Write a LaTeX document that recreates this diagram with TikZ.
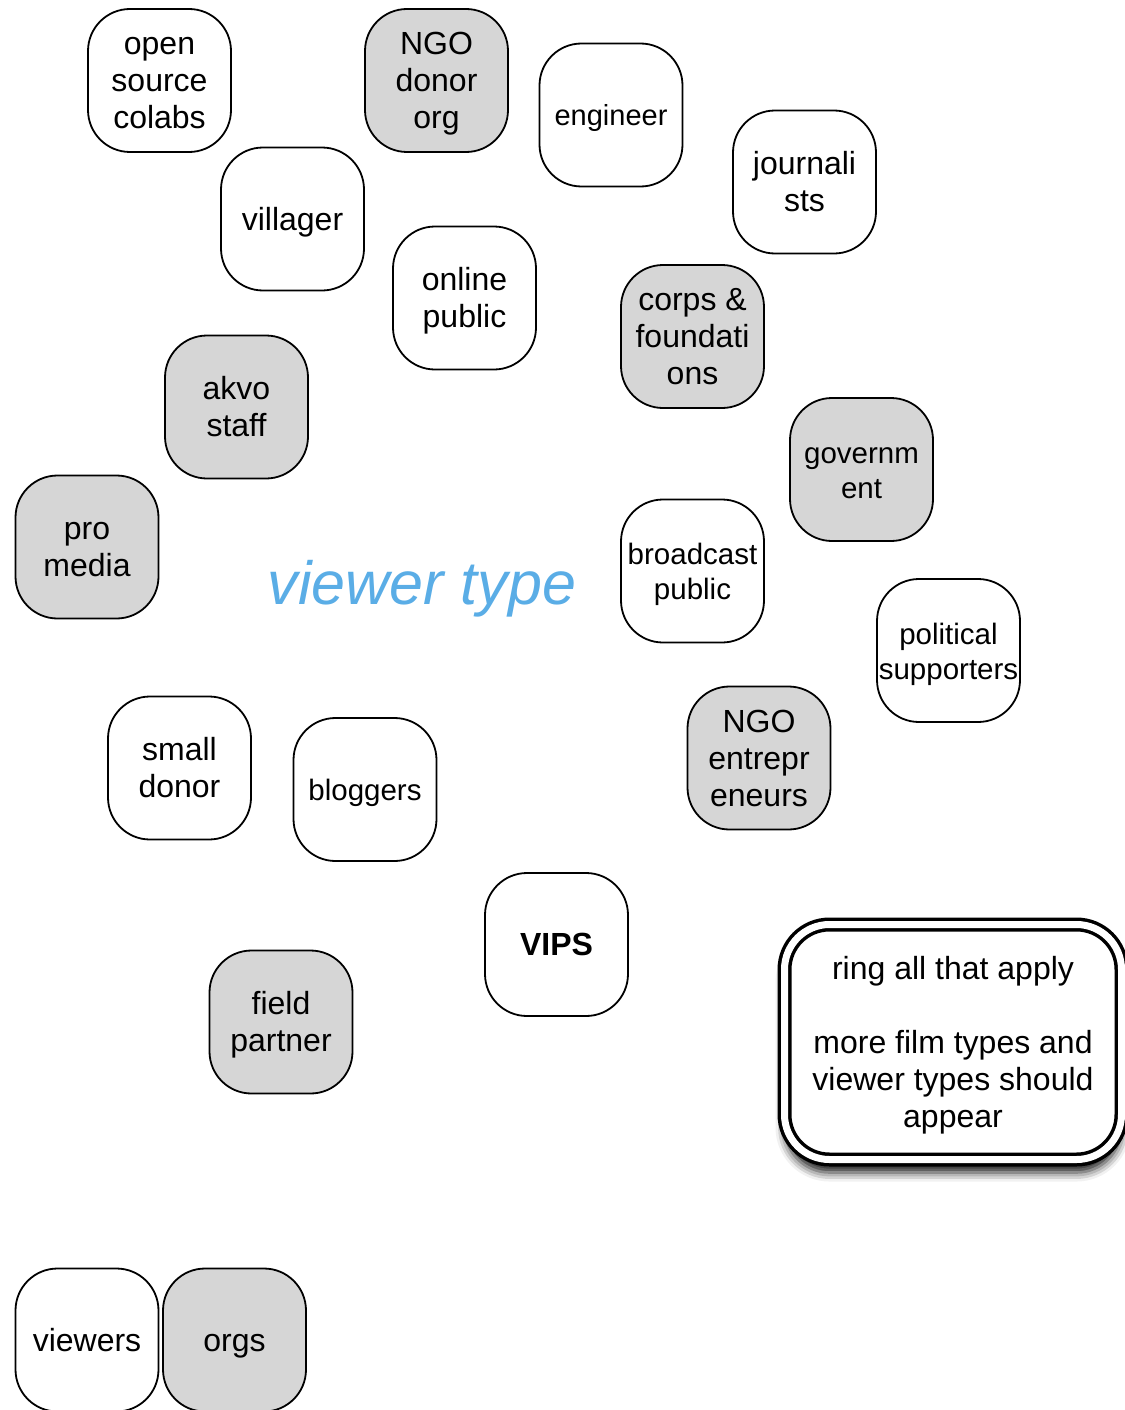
\documentclass[tikz,border=0pt]{standalone}
\usepackage{fontspec}
\setmainfont{Liberation Sans}
\usetikzlibrary{shadows.blur}
\definecolor{cardgray}{HTML}{D6D6D6}
\definecolor{titleblue}{HTML}{5AADE6}
\newcommand\cardlines[1]{\raisebox{-4pt}[\height][\depth]{\begin{tabular}{@{}c@{}}#1\end{tabular}}}
\begin{document}
\begin{tikzpicture}[x=1pt,y=-1pt,
        card/.style={draw,line width=1.8pt,rounded corners=42pt,fill=white,
                minimum width=143pt,minimum height=143pt,inner sep=0pt,
                font=\fontsize{32}{37}\selectfont},
        orgcard/.style={card,fill=cardgray},
        smallcard/.style={font=\fontsize{29.5}{35}\selectfont}]
        \useasboundingbox (0,0) rectangle (1124,1410);
        % viewer cards, top to bottom
        \node[card] (opensrc) at (159.5,80.5) {\cardlines{open\\source\\colabs}};
        \node[orgcard] (ngodonor) at (436.5,80.5) {\cardlines{NGO\\donor\\org}};
        \node[card,font=\fontsize{29}{35}\selectfont] (engineer) at (611,115) {\cardlines{engineer}};
        \node[card] (journo) at (804.5,182) {\cardlines{journali\\sts}};
        \node[card] (villager) at (292.5,219) {\cardlines{villager}};
        \node[card] (onlinepub) at (464.5,298) {\cardlines{online\\public}};
        \node[orgcard] (corps) at (692.5,336.5) {\cardlines{corps \&\\foundati\\ons}};
        \node[orgcard] (akvo) at (236.5,407) {\cardlines{akvo\\staff}};
        \node[orgcard,smallcard] (govt) at (861.5,469.5) {\cardlines{governm\\ent}};
        \node[orgcard] (promedia) at (87,547) {\cardlines{pro\\media}};
        \node[card,smallcard] (broadcast) at (692.5,571) {\cardlines{broadcast\\public}};
        \node[card,smallcard] (political) at (948.5,650.5) {\cardlines{political\\supporters}};
        \node[card] (smalldonor) at (179.5,768) {\cardlines{small\\donor}};
        \node[card,smallcard] (bloggers) at (365,789.5) {\cardlines{bloggers}};
        \node[orgcard] (ngoentre) at (759,758) {\cardlines{NGO\\entrepr\\eneurs}};
        \node[card,font=\fontsize{32}{37}\selectfont\bfseries] (vips) at (556.5,944.5) {\cardlines{VIPS}};
        \node[orgcard] (field) at (281,1022) {\cardlines{field\\partner}};
        % legend
        \node[card] (viewers) at (87,1340) {\cardlines{viewers}};
        \node[orgcard] (orgs) at (234.5,1340) {\cardlines{orgs}};
        % title
        \node[text=titleblue,font=\fontsize{61}{72}\selectfont\itshape] (title) at (422,589) {viewer type};
        % note
        \node[draw,line width=3.5pt,double=white,double distance=7pt,rounded corners=45pt,
                fill=white,minimum width=337pt,minimum height=235pt,inner sep=0pt,
                font=\fontsize{32}{37}\selectfont,
                blur shadow={shadow xshift=0pt,shadow yshift=-13pt,shadow blur radius=9pt,shadow opacity=90}]
                (note) at (953,1042) {\cardlines{ring all that apply\\ \\more film types and\\viewer types should\\appear}};
\end{tikzpicture}
\end{document}
